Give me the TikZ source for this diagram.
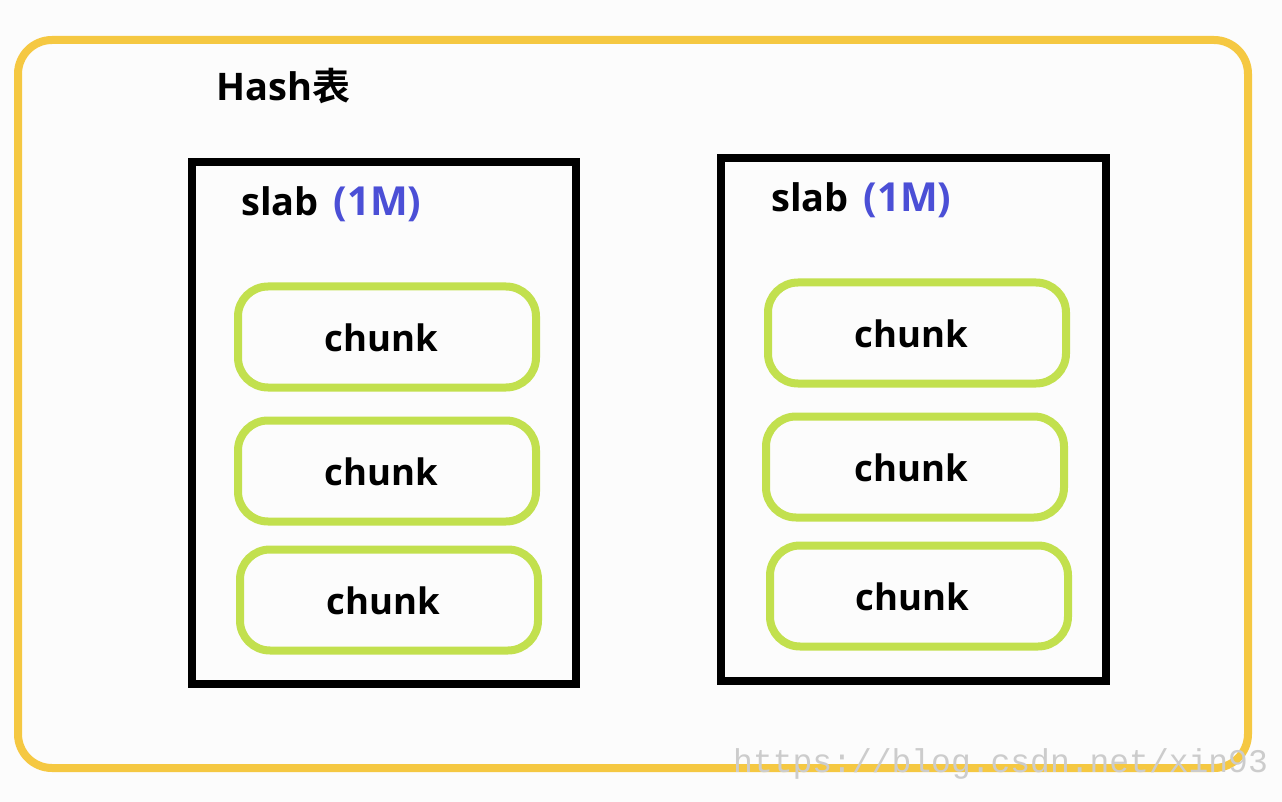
\documentclass[tikz,border=0pt]{standalone}
\usepackage{fontspec}
\setmainfont{Open Sans}[BoldFont={Open Sans Bold}]
\newfontfamily\cjkfont{Noto Sans CJK SC}[BoldFont={Noto Sans CJK SC Bold}]
\newfontfamily\wmfont{Liberation Mono}
\definecolor{hashyellow}{HTML}{F5C842}
\definecolor{chunkgreen}{HTML}{C2E04E}
\definecolor{mblue}{HTML}{4B4FD6}
\definecolor{bgwhite}{HTML}{FCFCFC}
\newcommand{\onem}{\hspace*{15pt}{\fontsize{40}{44}\selectfont\textcolor{mblue}{(1M)}}}
\begin{document}
\begin{tikzpicture}[x=1pt,y=-1pt,
  hashbox/.style={draw=hashyellow, line width=8pt, rounded corners=34pt, inner sep=0pt, outer sep=0pt},
  slabbox/.style={draw=black, line width=7.5pt, inner sep=0pt, outer sep=0pt},
  chunkbox/.style={draw=chunkgreen, line width=8pt, rounded corners=30pt, inner sep=0pt, outer sep=0pt,
    minimum width=298pt, minimum height=101pt},
  chunktxt/.style={inner sep=0pt, font=\fontsize{36.5}{40}\selectfont\bfseries},
  lbl/.style={anchor=base west, inner sep=0pt, font=\fontsize{38}{42}\selectfont\bfseries},
  wm/.style={anchor=base west, inner sep=0pt, text=black!20, font=\wmfont\fontsize{33}{36}\selectfont}
]
\fill[bgwhite] (0,0) rectangle (1282,802);
\useasboundingbox (0,0) rectangle (1282,802);

\node[hashbox, minimum width=1230pt, minimum height=728pt] (hash) at (633,404) {};
\node[lbl] (hashlbl) at (216,101) {Hash{\cjkfont\bfseries 表}};

\node[slabbox, minimum width=384pt, minimum height=522pt] (slabL) at (384,423) {};
\node[slabbox, minimum width=385pt, minimum height=523pt] (slabR) at (913.5,419.5) {};

\node[lbl] (slabLlbl) at (241,216) {slab\onem};
\node[lbl] (slabRlbl) at (771,212) {slab\onem};

\node[chunkbox] (cL1) at (387,337) {};
\node[chunkbox] (cL2) at (387,471) {};
\node[chunkbox] (cL3) at (389,600) {};
\node[chunkbox] (cR1) at (917,333) {};
\node[chunkbox] (cR2) at (915,467) {};
\node[chunkbox] (cR3) at (919,596) {};

\node[chunktxt] (tL1) at ([xshift=-6pt,yshift=-1pt]cL1.center) {chunk};
\node[chunktxt] (tL2) at ([xshift=-6pt,yshift=-1pt]cL2.center) {chunk};
\node[chunktxt] (tL3) at ([xshift=-6pt,yshift=-1pt]cL3.center) {chunk};
\node[chunktxt] (tR1) at ([xshift=-6pt,yshift=-1pt]cR1.center) {chunk};
\node[chunktxt] (tR2) at ([xshift=-4pt,yshift=-1pt]cR2.center) {chunk};
\node[chunktxt] (tR3) at ([xshift=-7pt,yshift=-1pt]cR3.center) {chunk};

\node[wm] (wmark) at (733,772) {https://blog.csdn.net/xin93};
\end{tikzpicture}
\end{document}
